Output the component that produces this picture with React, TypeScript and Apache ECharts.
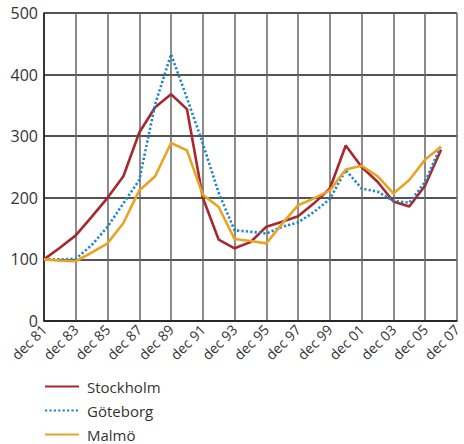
import React, { useEffect, useRef } from "react";
import * as echarts from "echarts";

// Yearly observations, December of each year (index 1981 = 100)
const years = [
  "dec 81", "dec 82", "dec 83", "dec 84", "dec 85", "dec 86", "dec 87", "dec 88", "dec 89",
  "dec 90", "dec 91", "dec 92", "dec 93", "dec 94", "dec 95", "dec 96", "dec 97", "dec 98",
  "dec 99", "dec 00", "dec 01", "dec 02", "dec 03", "dec 04", "dec 05", "dec 06", "dec 07",
];

const stockholm = [
  100, 119, 139, 169, 200, 235, 306, 347, 368, 344, 200, 132, 118,
  128, 153, 161, 170, 191, 215, 285, 250, 226, 194, 186, 220, 278, null,
];
const goteborg = [
  100, 100, 101, 123, 153, 191, 229, 352, 433, 362, 288, 208, 147,
  145, 142, 153, 160, 177, 198, 245, 215, 210, 195, 192, 226, 285, null,
];
const malmo = [
  100, 98, 97, 111, 126, 159, 212, 235, 289, 277, 205, 185, 133,
  130, 126, 158, 188, 199, 212, 246, 252, 235, 207, 229, 262, 283, null,
];

const yTicks = { min: 0, max: 500, interval: 100 };

const FONT = "'Open Sans', 'Noto Sans', sans-serif";

export default function App() {
  const ref = useRef<HTMLDivElement>(null);

  useEffect(() => {
    if (!ref.current) return;
    const chart = echarts.init(ref.current, undefined, { renderer: "svg" });
    const lineSeries = (name: string, data: (number | null)[], color: string, dotted = false) => ({
      name,
      type: "line",
      data,
      showSymbol: false,
      symbol: "none",
      lineStyle: {
        color,
        width: 2.6,
        type: dotted ? [2.2, 2.2] : "solid",
      },
      itemStyle: { color },
    });
    chart.setOption({
      animation: false,
      textStyle: { fontFamily: FONT },
      grid: { left: 44, right: 7, top: 13, bottom: 123, containLabel: false, show: false },
      legend: {
        orient: "vertical",
        left: 44,
        top: 379,
        height: 100,
        padding: 0,
        itemWidth: 34,
        itemHeight: 14,
        itemGap: 9,
        itemStyle: { color: "transparent", borderWidth: 0, opacity: 0 },
        textStyle: {
          fontFamily: FONT,
          fontSize: 15,
          lineHeight: 15,
          color: "#333",
          padding: [0, 0, 0, 3],
        },
        data: ["Stockholm", "Göteborg", "Malmö"],
      },
      xAxis: {
        type: "category",
        data: years,
        boundaryGap: false,
        axisLine: { show: true, lineStyle: { color: "#1a1a1a", width: 1.5 } },
        axisTick: { show: false },
        axisLabel: {
          interval: 1,
          rotate: 45,
          margin: 6,
          fontFamily: FONT,
          fontSize: 14,
          color: "#333",
        },
        splitLine: { show: true, interval: 1, lineStyle: { color: "#666", width: 1.5 } },
      },
      yAxis: {
        type: "value",
        min: yTicks.min,
        max: yTicks.max,
        interval: yTicks.interval,
        axisLine: { show: true, lineStyle: { color: "#1a1a1a", width: 1.5 } },
        axisTick: { show: false },
        axisLabel: { fontFamily: FONT, fontSize: 16, color: "#333", margin: 6 },
        splitLine: { show: true, lineStyle: { color: "#1a1a1a", width: 1.5 } },
      },
      series: [
        lineSeries("Stockholm", stockholm, "#a8282f"),
        lineSeries("Göteborg", goteborg, "#1b86c8", true),
        lineSeries("Malmö", malmo, "#e9a324"),
      ],
    });
    return () => chart.dispose();
  }, []);

  return (
    <div
      ref={ref}
      style={{ position: "absolute", left: 0, top: 0, width: 464, height: 444 }}
    />
  );
}
